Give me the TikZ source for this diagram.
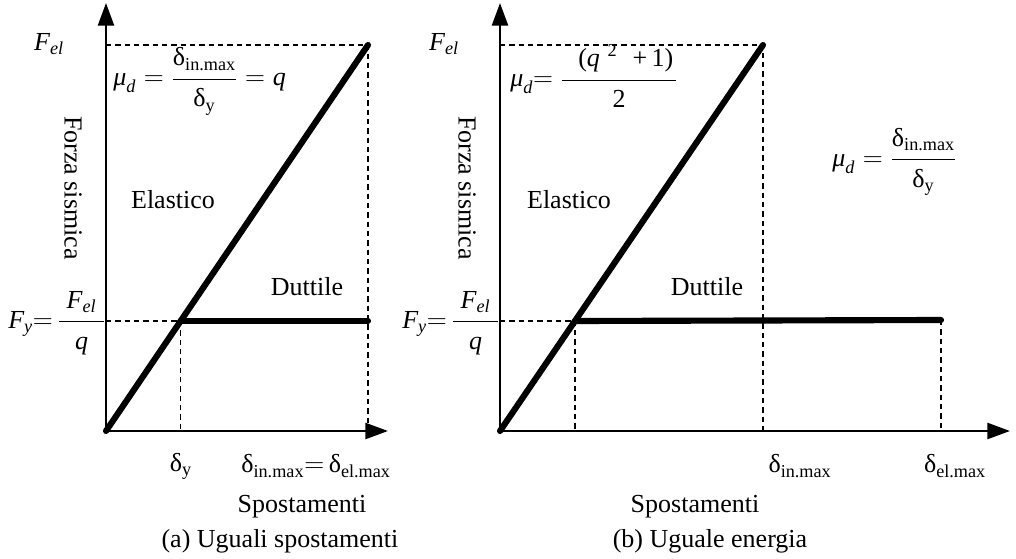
\documentclass[tikz,border=0pt]{standalone}
\usepackage{amsmath}
\usepackage{fontspec}
\setmainfont{Liberation Serif}
\usetikzlibrary{arrows.meta}
\newcommand{\Dl}{\text{δ}}
\newcommand{\Tx}[1]{\text{#1}}
\newcommand{\It}[1]{\text{\itshape #1}}
\newcommand{\NumS}{\rule[-7pt]{0pt}{7pt}}
\newcommand{\DenS}{\rule{0pt}{18pt}}
\begin{document}
\begin{tikzpicture}[x=0.75pt,y=-0.75pt,
  axis/.style={line width=1.9pt,-{Triangle[length=17pt,width=12pt]}},
  guide/.style={line width=1.1pt,dash pattern=on 4pt off 3pt},
  curve/.style={line width=4.6pt,line cap=round},
  lbl/.style={inner sep=0pt,font=\fontsize{19.5}{23}\selectfont},
  every node/.style={lbl}]
\useasboundingbox (0,0) rectangle (1016,559);
% ---------- panel (a)
\coordinate (O1) at (106,431);
\coordinate (YT1) at (106,3);
\coordinate (XT1) at (388,431);
\coordinate (P1) at (368,45);
\coordinate (FE1) at (106,45);
\coordinate (Y1) at (180.7,321);
\coordinate (FY1) at (106,321);
\coordinate (E1) at (368,321);
\coordinate (B1) at (368,431);
\coordinate (BY1) at (180.7,431);
\draw[guide] (FE1) -- (P1) -- (B1);
\draw[guide] (FY1) -- (Y1) -- (BY1);
\draw[axis] (O1) -- (YT1);
\draw[axis] (O1) -- (XT1);
\draw[curve] (O1) -- (P1);
\draw[curve] (Y1) -- (E1);
\node (fel1) at (49,44) {$\It{F}_{\It{el}}$};
\node[anchor=base west] (mu1) at (113,86) {$\It{μ}_{\It{d}} = \dfrac{\Dl_{\Tx{in.max}}\NumS}{\DenS\Dl_{\Tx{y}}} = \It{q}$};
\node[rotate=-90] (fs1) at (73,188) {Forza sismica};
\node (el1) at (173,200) {Elastico};
\node (du1) at (307,287) {Duttile};
\node[anchor=base west] (fy1) at (8,328.5) {$\It{F}_{\It{y}}{=}\,\dfrac{\;\It{F}_{\It{el}}\;\NumS}{\DenS\It{q}}$};
\node (dy1) at (181,466) {$\Dl_{\Tx{y}}$};
\node (dm1) at (316,466) {$\Dl_{\Tx{in.max}}{=}\,\Dl_{\Tx{el.max}}$};
\node (sp1) at (302,507) {Spostamenti};
\node (cap1) at (280,541) {(a) Uguali spostamenti};
% ---------- panel (b)
\coordinate (O2) at (500,431);
\coordinate (YT2) at (500,3);
\coordinate (XT2) at (1010,431);
\coordinate (P2) at (763,45);
\coordinate (FE2) at (500,45);
\coordinate (Y2) at (575,321);
\coordinate (FY2) at (500,321);
\coordinate (E2) at (941,320);
\coordinate (B2) at (763,431);
\coordinate (BY2) at (575,431);
\coordinate (BE2) at (941,431);
\draw[guide] (FE2) -- (P2) -- (B2);
\draw[guide] (FY2) -- (Y2) -- (BY2);
\draw[guide] (E2) -- (BE2);
\draw[axis] (O2) -- (YT2);
\draw[axis] (O2) -- (XT2);
\draw[curve] (O2) -- (P2);
\draw[curve] (Y2) -- (E2);
\node (fel2) at (444,44) {$\It{F}_{\It{el}}$};
\node[anchor=base west] (mu2) at (510,87) {$\It{μ}_{\It{d}}{=}\;\dfrac{\hspace{12pt}\Tx{(}\It{q}\;{}^{\Tx{2}}\;\;\Tx{+\,1)}\hspace{2pt}\NumS}{\DenS\Tx{2}}$};
\node[anchor=base west] (mu3) at (832,166.5) {$\It{μ}_{\It{d}} = \dfrac{\Dl_{\Tx{in.max}}\NumS}{\DenS\Dl_{\Tx{y}}}$};
\node[rotate=-90] (fs2) at (467,188) {Forza sismica};
\node (el2) at (569,200) {Elastico};
\node (du2) at (707,287) {Duttile};
\node[anchor=base west] (fy2) at (402,328.5) {$\It{F}_{\It{y}}{=}\,\dfrac{\;\It{F}_{\It{el}}\;\NumS}{\DenS\It{q}}$};
\node (dm2) at (800,466) {$\Dl_{\Tx{in.max}}$};
\node (de2) at (955,466) {$\Dl_{\Tx{el.max}}$};
\node (sp2) at (695,507) {Spostamenti};
\node (cap2) at (710,541) {(b) Uguale energia};
\end{tikzpicture}
\end{document}
